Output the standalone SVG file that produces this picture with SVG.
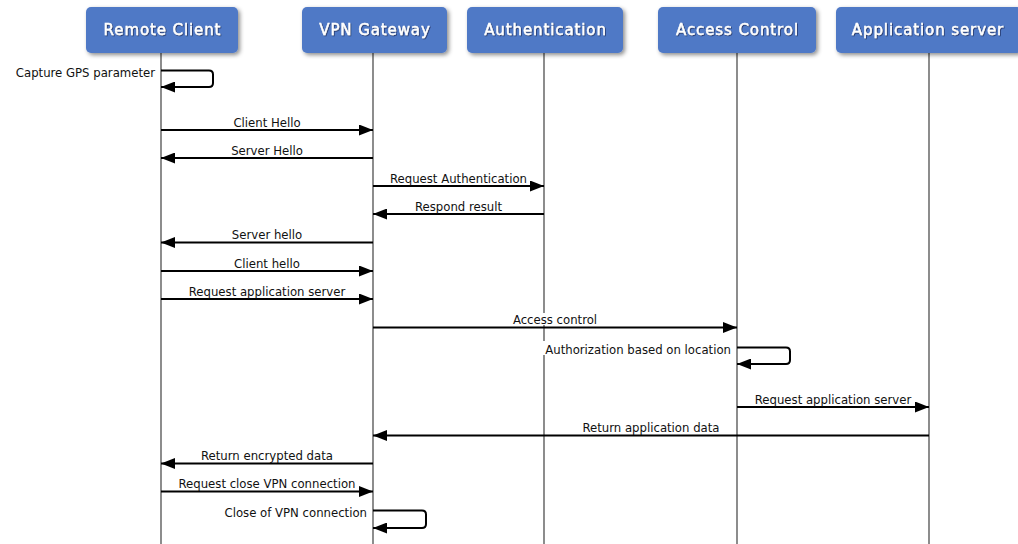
<svg xmlns="http://www.w3.org/2000/svg" width="1018" height="544" viewBox="0 0 1018 544">
  <defs>
    <filter id="shadow" x="-10%" y="-20%" width="130%" height="160%">
      <feDropShadow dx="2" dy="2" stdDeviation="2" flood-color="#000" flood-opacity="0.45"/>
    </filter>
    <filter id="txtshadow" x="-5%" y="-20%" width="110%" height="150%">
      <feDropShadow dx="0.8" dy="0.8" stdDeviation="0.7" flood-color="#15244a" flood-opacity="0.8"/>
    </filter>
    <marker id="head" viewBox="0 0 14 11" refX="14" refY="5.5" markerWidth="14" markerHeight="11" markerUnits="userSpaceOnUse" orient="auto">
      <path d="M0,0 L14,5.5 L0,11 Z" fill="#000"/>
    </marker>
    <style>
      .box { fill: #4f79c6; filter: url(#shadow); }
      .title { font-family: "DejaVu Sans", Verdana, sans-serif; font-size: 15px; letter-spacing: 0.9px; fill: #fff; stroke: #fff; stroke-width: 0.45; text-anchor: middle; filter: url(#txtshadow); }
      .life { stroke: #707070; stroke-width: 1.6; fill: none; }
      .msg { stroke: #000; stroke-width: 2; fill: none; marker-end: url(#head); }
      .lbl { font-family: "DejaVu Sans Condensed", "DejaVu Sans", Tahoma, sans-serif; font-size: 13px; fill: #111; }
      .mid { text-anchor: middle; }
      .end { text-anchor: end; }
      .bg { fill: #fff; }
    </style>
  </defs>

  <rect width="1018" height="544" fill="#fff"/>

  <!-- lifelines -->
  <g id="lifelines">
    <line class="life" x1="161" y1="53" x2="161" y2="544"/>
    <line class="life" x1="373" y1="53" x2="373" y2="544"/>
    <line class="life" x1="544" y1="53" x2="544" y2="544"/>
    <line class="life" x1="737" y1="53" x2="737" y2="544"/>
    <line class="life" x1="929" y1="53" x2="929" y2="544"/>
  </g>

  <!-- participants -->
  <g id="remote-client">
    <rect class="box" x="86" y="7" width="152" height="46" rx="5"/>
    <text class="title" x="162.5" y="35">Remote Client</text>
  </g>
  <g id="vpn-gateway">
    <rect class="box" x="302" y="7" width="145" height="46" rx="5"/>
    <text class="title" x="375" y="35">VPN Gateway</text>
  </g>
  <g id="authentication">
    <rect class="box" x="467" y="7" width="156" height="46" rx="5"/>
    <text class="title" x="545.5" y="35">Authentication</text>
  </g>
  <g id="access-control">
    <rect class="box" x="658" y="7" width="158" height="46" rx="5"/>
    <text class="title" x="737.5" y="35">Access Control</text>
  </g>
  <g id="application-server">
    <rect class="box" x="836" y="7" width="186" height="46" rx="5"/>
    <text class="title" x="928" y="35">Application server</text>
  </g>

  <!-- messages -->
  <g id="connectors">
    <!-- self: capture GPS -->
    <path class="msg" d="M161,70.5 H209 Q213,70.5 213,74.5 V83 Q213,87 209,87 H161"/>
    <text class="lbl end" x="155" y="77">Capture GPS parameter</text>

    <line class="msg" x1="161" y1="130" x2="373" y2="130"/>
    <text class="lbl mid" x="267" y="126.5">Client Hello</text>

    <line class="msg" x1="373" y1="158" x2="161" y2="158"/>
    <text class="lbl mid" x="267" y="154.5">Server Hello</text>

    <line class="msg" x1="373" y1="186" x2="544" y2="186"/>
    <text class="lbl mid" x="458.5" y="182.5">Request Authentication</text>

    <line class="msg" x1="544" y1="214" x2="373" y2="214"/>
    <text class="lbl mid" x="458.5" y="210.5">Respond result</text>

    <line class="msg" x1="373" y1="242.5" x2="161" y2="242.5"/>
    <text class="lbl mid" x="267" y="239">Server hello</text>

    <line class="msg" x1="161" y1="271" x2="373" y2="271"/>
    <text class="lbl mid" x="267" y="267.5">Client hello</text>

    <line class="msg" x1="161" y1="299" x2="373" y2="299"/>
    <text class="lbl mid" x="267" y="295.5">Request application server</text>

    <line class="msg" x1="373" y1="327.5" x2="737" y2="327.5"/>
    <rect class="bg" x="510" y="313" width="90" height="12"/>
    <text class="lbl mid" x="555" y="324">Access control</text>

    <!-- self: authorization -->
    <path class="msg" d="M737,347.5 H786 Q790,347.5 790,351.5 V360 Q790,364 786,364 H737"/>
    <rect class="bg" x="541" y="341" width="191" height="14"/>
    <text class="lbl end" x="731" y="354">Authorization based on location</text>

    <line class="msg" x1="737" y1="407" x2="929" y2="407"/>
    <text class="lbl mid" x="833" y="403.5">Request application server</text>

    <line class="msg" x1="929" y1="435.5" x2="373" y2="435.5"/>
    <text class="lbl mid" x="651" y="432">Return application data</text>

    <line class="msg" x1="373" y1="463.5" x2="161" y2="463.5"/>
    <text class="lbl mid" x="267" y="460">Return encrypted data</text>

    <line class="msg" x1="161" y1="491.5" x2="373" y2="491.5"/>
    <text class="lbl mid" x="267" y="488">Request close VPN connection</text>

    <!-- self: close VPN -->
    <path class="msg" d="M373,510.5 H422 Q426,510.5 426,514.5 V524 Q426,528 422,528 H373"/>
    <text class="lbl end" x="367" y="517">Close of VPN connection</text>
  </g>
</svg>
